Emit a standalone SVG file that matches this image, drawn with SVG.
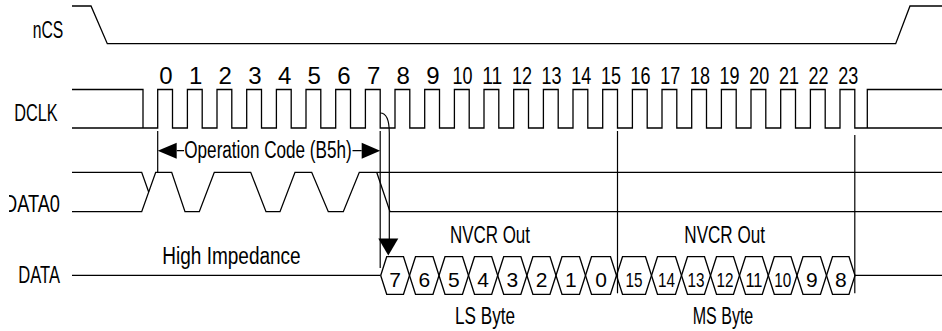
<svg xmlns="http://www.w3.org/2000/svg" width="942" height="331" viewBox="0 0 942 331">
<style>
.w{fill:none;stroke:#000;stroke-width:1.3}
.m{fill:none;stroke:#000;stroke-width:1.2}
.t{font-family:"Liberation Sans Narrow","Liberation Sans",Arial,sans-serif;fill:#000}
.lbl{font-size:23px}
.num{font-size:24px;text-anchor:middle}
.bit{font-size:21px;text-anchor:middle}
.ah{fill:#000;stroke:none}
</style>
<defs>
<clipPath id="clipD"><rect x="9" y="180" width="70" height="45"/></clipPath>
</defs>
<rect width="942" height="331" fill="#fff"/>

<g id="labels">
<text class="t lbl" x="32.7" y="37.7" textLength="30.6" lengthAdjust="spacingAndGlyphs">nCS</text>
<text class="t lbl" x="14.3" y="120.7" textLength="43.4" lengthAdjust="spacingAndGlyphs">DCLK</text>
<text class="t lbl" x="4" y="211.7" textLength="56" lengthAdjust="spacingAndGlyphs" clip-path="url(#clipD)">DATA0</text>
<text class="t lbl" x="18.3" y="283.3" textLength="41.7" lengthAdjust="spacingAndGlyphs">DATA</text>
</g>

<g id="nCS">
<path class="w" d="M72,6 H91 L107.3,43.7 H895.7 L910,6 H942"/>
</g>

<g id="DCLK">
<path class="w" d="M72,89.5 H143 V128"/>
<path class="w" d="M72,128 H157.7 V89.5 H172.5 V128 H187.4 V89.5 H202.2 V128 H217 V89.5 H231.8 V128 H246.7 V89.5 H261.5 V128 H276.4 V89.5 H291.2 V128 H306 V89.5 H320.8 V128 H335.7 V89.5 H350.5 V128 H365.4 V89.5 H380.2 V128 H395 V89.5 H409.8 V128 H424.7 V89.5 H439.5 V128 H454.4 V89.5 H469.2 V128 H484 V89.5 H498.8 V128 H513.7 V89.5 H528.5 V128 H543.4 V89.5 H558.2 V128 H573 V89.5 H587.8 V128 H602.7 V89.5 H617.5 V128 H632.4 V89.5 H647.2 V128 H662 V89.5 H676.8 V128 H691.7 V89.5 H706.5 V128 H721.4 V89.5 H736.2 V128 H751 V89.5 H765.8 V128 H780.7 V89.5 H795.5 V128 H810.4 V89.5 H825.2 V128 H840 V89.5 H854.8 V128 H942"/>
<path class="w" d="M867.3,128 V89.5 H942"/>
<g class="t num">
<text x="165.9" y="84">0</text><text x="195.6" y="84">1</text><text x="225.2" y="84">2</text><text x="254.9" y="84">3</text>
<text x="284.6" y="84">4</text><text x="314.2" y="84">5</text><text x="343.9" y="84">6</text><text x="373.6" y="84">7</text>
<text x="403.2" y="84">8</text><text x="432.9" y="84">9</text>
<text x="462.6" y="84" textLength="20" lengthAdjust="spacingAndGlyphs">10</text>
<text x="492.2" y="84" textLength="20" lengthAdjust="spacingAndGlyphs">11</text>
<text x="521.9" y="84" textLength="20" lengthAdjust="spacingAndGlyphs">12</text>
<text x="551.6" y="84" textLength="20" lengthAdjust="spacingAndGlyphs">13</text>
<text x="581.2" y="84" textLength="20" lengthAdjust="spacingAndGlyphs">14</text>
<text x="610.9" y="84" textLength="20" lengthAdjust="spacingAndGlyphs">15</text>
<text x="640.6" y="84" textLength="20" lengthAdjust="spacingAndGlyphs">16</text>
<text x="670.2" y="84" textLength="20" lengthAdjust="spacingAndGlyphs">17</text>
<text x="699.9" y="84" textLength="20" lengthAdjust="spacingAndGlyphs">18</text>
<text x="729.6" y="84" textLength="20" lengthAdjust="spacingAndGlyphs">19</text>
<text x="759.2" y="84" textLength="20" lengthAdjust="spacingAndGlyphs">20</text>
<text x="788.9" y="84" textLength="20" lengthAdjust="spacingAndGlyphs">21</text>
<text x="818.6" y="84" textLength="20" lengthAdjust="spacingAndGlyphs">22</text>
<text x="848.2" y="84" textLength="20" lengthAdjust="spacingAndGlyphs">23</text>
</g>
</g>

<g id="DATA0">
<path class="w" d="M72,172.3 H141.7 L148.7,192"/>
<path class="w" d="M72,211.7 H141.7 L155.7,172.3 H171.7 L185,211.7 H199.3 L214.3,172.3 H250.7 L266,211.7 H280 L295,172.3 H311.7 L328.3,211.7 H343.3 L359.3,172.3 H942"/>
<path class="w" d="M376.7,172.3 L390,211.7 H942"/>
</g>

<g id="DATA">
<path class="w" d="M72,275.3 H380.7 M855,275.3 H942"/>
<path class="w" d="M380.7,275.5 L386.7,256.7 H403.5 L415.5,294.3 H433 L445,256.7 H462.5 L474.5,294.3 H491.7 L503.7,256.7 H520.9 L532.9,294.3 H550 L562,256.7 H579.5 L591.5,294.3 H610.5 L622.5,256.7 H645.5 L657.5,294.3 H675.5 L687.5,256.7 H704.5 L716.5,294.3 H733.5 L745.5,256.7 H762.3 L774.3,294.3 H791 L803,256.7 H820.5 L832.5,294.3 H849 L855,275.5"/>
<path class="w" d="M380.7,275.5 L386.7,294.3 H403.5 L415.5,256.7 H433 L445,294.3 H462.5 L474.5,256.7 H491.7 L503.7,294.3 H520.9 L532.9,256.7 H550 L562,294.3 H579.5 L591.5,256.7 H610.5 L622.5,294.3 H645.5 L657.5,256.7 H675.5 L687.5,294.3 H704.5 L716.5,256.7 H733.5 L745.5,294.3 H762.3 L774.3,256.7 H791 L803,294.3 H820.5 L832.5,256.7 H849 L855,275.5"/>
<g class="t bit">
<text x="395.1" y="286.5">7</text><text x="424.3" y="286.5">6</text><text x="453.8" y="286.5">5</text><text x="483.1" y="286.5">4</text>
<text x="512.3" y="286.5">3</text><text x="541.5" y="286.5">2</text><text x="570.8" y="286.5">1</text><text x="601" y="286.5">0</text>
<text x="634" y="286.5" textLength="17" lengthAdjust="spacingAndGlyphs">15</text>
<text x="666.5" y="286.5" textLength="17" lengthAdjust="spacingAndGlyphs">14</text>
<text x="696" y="286.5" textLength="17" lengthAdjust="spacingAndGlyphs">13</text>
<text x="725" y="286.5" textLength="17" lengthAdjust="spacingAndGlyphs">12</text>
<text x="753.9" y="286.5" textLength="17" lengthAdjust="spacingAndGlyphs">11</text>
<text x="782.7" y="286.5" textLength="17" lengthAdjust="spacingAndGlyphs">10</text>
<text x="811.8" y="286.5">9</text><text x="840.8" y="286.5">8</text>
</g>
<text class="t lbl" x="162.3" y="264" textLength="138.4" lengthAdjust="spacingAndGlyphs">High Impedance</text>
<text class="t lbl" x="450" y="242.7" textLength="80" lengthAdjust="spacingAndGlyphs" font-size="24">NVCR Out</text>
<text class="t lbl" x="684.3" y="242.7" textLength="80.7" lengthAdjust="spacingAndGlyphs" font-size="24">NVCR Out</text>
<text class="t lbl" x="455" y="324" textLength="60" lengthAdjust="spacingAndGlyphs">LS Byte</text>
<text class="t lbl" x="692.7" y="324" textLength="60.6" lengthAdjust="spacingAndGlyphs">MS Byte</text>
</g>

<g id="connectors">
<path class="m" d="M157.7,131 V172.3"/>
<path class="m" d="M380.2,131 V268"/>
<path class="m" d="M617.5,131 V293.3"/>
<path class="m" d="M854.8,135 V293.3"/>
<path class="m" d="M176.7,150.7 H184 M352.5,150.7 H361.7"/>
<polygon class="ah" points="157.7,150.7 176.7,142.7 176.7,158.7"/>
<polygon class="ah" points="380.2,150.7 361.7,142.7 361.7,158.7"/>
<path class="m" d="M380.2,113 Q389.3,113 389.3,133 V240"/>
<polygon class="ah" points="378.3,238.5 398.3,238.5 388.3,255.5"/>
</g>
<text class="t lbl" x="184.3" y="158" textLength="167.4" lengthAdjust="spacingAndGlyphs">Operation Code (B5h)</text>
</svg>
